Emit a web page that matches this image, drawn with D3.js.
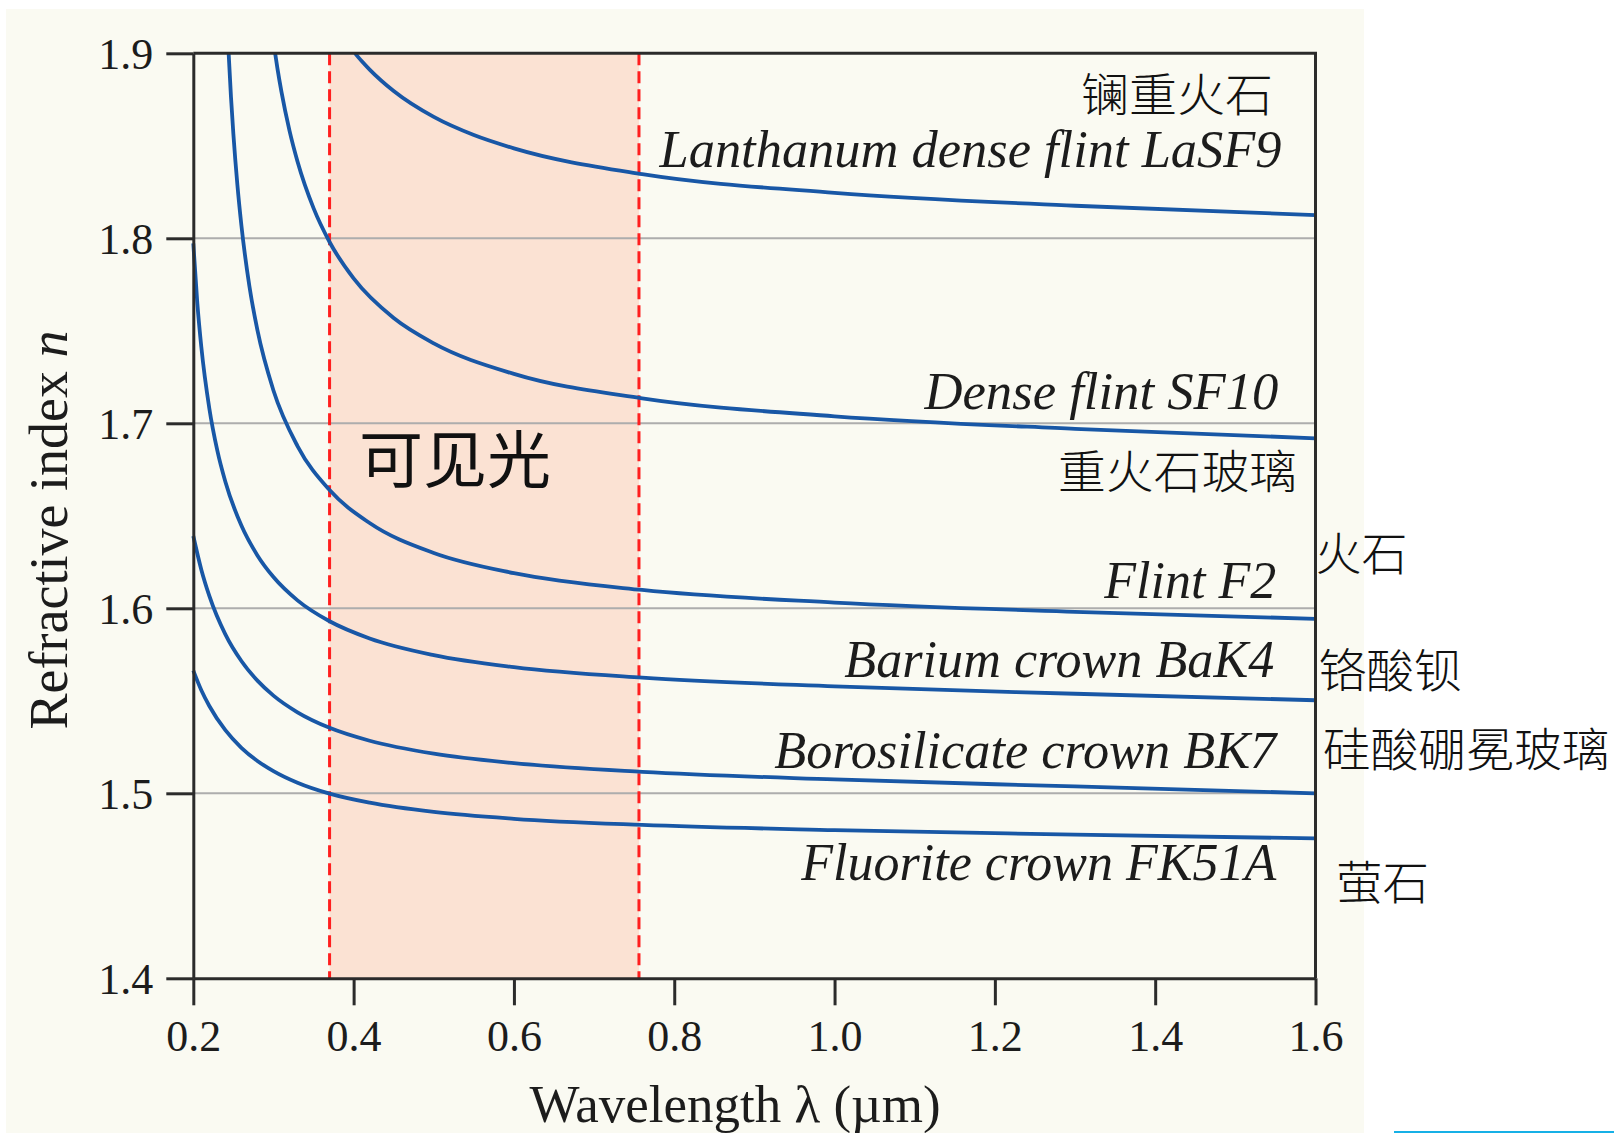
<!DOCTYPE html>
<html><head><meta charset="utf-8">
<script src="https://cdn.jsdelivr.net/npm/d3@7"></script>
<style>body{margin:0;background:#fff;} svg{display:block;}</style>
</head><body>
<svg id="chart" width="1614" height="1133"></svg>
<script>
// ---- data ----
const yTicks = [1.4, 1.5, 1.6, 1.7, 1.8, 1.9];
const xTicks = [0.2, 0.4, 0.6, 0.8, 1.0, 1.2, 1.4, 1.6];
const gridValues = [1.5, 1.6, 1.7, 1.8];
const visibleBand = [0.37, 0.756];

const wlLaSF9 = [0.4018, 0.41, 0.42, 0.45, 0.5, 0.55, 0.6, 0.76, 1.0, 1.3, 1.6];
const nLaSF9  = [1.9000, 1.8958, 1.8912, 1.8796, 1.8656, 1.8558, 1.8486, 1.8347, 1.8246, 1.8176, 1.8125];

const wlSF10 = [0.3021, 0.305, 0.31, 0.32, 0.33, 0.35, 0.37, 0.4, 0.45, 0.5, 0.6, 0.76, 1.0, 1.3, 1.6];
const nSF10  = [1.9000, 1.8917, 1.8791, 1.8582, 1.8415, 1.8163, 1.7980, 1.7783, 1.7569, 1.7432, 1.7267, 1.7135, 1.7038, 1.6970, 1.6919];

const wlF2 = [0.2441, 0.247, 0.25, 0.255, 0.26, 0.27, 0.28, 0.3, 0.33, 0.37, 0.42, 0.5, 0.6, 0.76, 1.0, 1.3, 1.6];
const nF2  = [1.9000, 1.8765, 1.8563, 1.8289, 1.8070, 1.7741, 1.7503, 1.7177, 1.6877, 1.6639, 1.6461, 1.6299, 1.6190, 1.6099, 1.6031, 1.5981, 1.5943];

const wlBaK4 = [0.2, 0.205, 0.21, 0.22, 0.23, 0.24, 0.26, 0.28, 0.3, 0.33, 0.37, 0.42, 0.5, 0.6, 0.76, 1.0, 1.3, 1.6];
const nBaK4  = [1.7972, 1.7650, 1.7413, 1.7080, 1.6852, 1.6684, 1.6447, 1.6286, 1.6169, 1.6043, 1.5930, 1.5837, 1.5747, 1.5682, 1.5625, 1.5578, 1.5538, 1.5503];

const wlBK7 = [0.2, 0.21, 0.22, 0.24, 0.26, 0.28, 0.3, 0.33, 0.37, 0.42, 0.5, 0.6, 0.76, 1.0, 1.3, 1.6];
const nBK7  = [1.6391, 1.6209, 1.6067, 1.5859, 1.5715, 1.5609, 1.5528, 1.5438, 1.5354, 1.5284, 1.5214, 1.5163, 1.5116, 1.5075, 1.5037, 1.5000];

const wlFK51A = [0.2, 0.21, 0.22, 0.24, 0.26, 0.28, 0.3, 0.33, 0.37, 0.42, 0.5, 0.6, 0.76, 1.0, 1.3, 1.6];
const nFK51A  = [1.5663, 1.5557, 1.5472, 1.5341, 1.5246, 1.5175, 1.5120, 1.5057, 1.4998, 1.4949, 1.4899, 1.4862, 1.4829, 1.4801, 1.4777, 1.4756];

const seriesNames = ["Lanthanum dense flint LaSF9", "Dense flint SF10", "Flint F2",
                     "Barium crown BaK4", "Borosilicate crown BK7", "Fluorite crown FK51A"];
const seriesNamesCN = ["镧重火石", "重火石玻璃", "火石", "铬酸钡", "硅酸硼冕玻璃", "萤石"];
const bandLabel = "可见光";
const xTitle = "Wavelength λ (µm)";
const yTitle = "Refractive index ";
const yTitleVar = "n";

// ---- drawing ----
const svg = d3.select("#chart");
const L = 193.3, R = 1315.5, T = 53.3, B = 978.3;
const x = d3.scaleLinear().domain([0.2, 1.6]).range([L, R]);
const y = d3.scaleLinear().domain([1.4, 1.9]).range([B, T]);

const ink = "#1c1c1c";
const serif = "'Liberation Serif','Times New Roman',serif";
const cjk = "'Noto Sans CJK SC','Noto Sans CJK JP',sans-serif";

// panel background
svg.append("rect").attr("x", 6).attr("y", 9).attr("width", 1358).attr("height", 1124).attr("fill", "#fafaf2");
svg.append("line").attr("x1", 1394).attr("x2", 1614).attr("y1", 1132).attr("y2", 1132)
  .attr("stroke", "#16b0e6").attr("stroke-width", 2);

// visible band
svg.append("rect")
  .attr("x", x(visibleBand[0])).attr("y", T)
  .attr("width", x(visibleBand[1]) - x(visibleBand[0])).attr("height", B - T)
  .attr("fill", "#fbe2d3");

// grid
svg.append("g").selectAll("line").data(gridValues).join("line")
  .attr("x1", L).attr("x2", R).attr("y1", d => y(d)).attr("y2", d => y(d))
  .attr("stroke", "#adadad").attr("stroke-width", 2);

// red dashed band edges
svg.append("g").selectAll("line").data(visibleBand).join("line")
  .attr("x1", d => x(d)).attr("x2", d => x(d)).attr("y1", T).attr("y2", B)
  .attr("stroke", "#ff1f1f").attr("stroke-width", 3).attr("stroke-dasharray", "12,6");

// curves
const series = [[wlLaSF9, nLaSF9], [wlSF10, nSF10], [wlF2, nF2], [wlBaK4, nBaK4], [wlBK7, nBK7], [wlFK51A, nFK51A]];
const line = d3.line().x(d => x(d[0])).y(d => y(d[1])).curve(d3.curveMonotoneX);
svg.append("g").selectAll("path").data(series).join("path")
  .attr("d", s => line(s[0].map((w, i) => [w, s[1][i]])))
  .attr("fill", "none").attr("stroke", "#1857a6").attr("stroke-width", 3.8);

// frame top / right
svg.append("line").attr("x1", L).attr("x2", R + 1.5).attr("y1", T).attr("y2", T).attr("stroke", "#2b2b2b").attr("stroke-width", 3);
svg.append("line").attr("x1", R).attr("x2", R).attr("y1", T).attr("y2", B).attr("stroke", "#2b2b2b").attr("stroke-width", 3);

// axes
const yAxis = svg.append("g").attr("transform", `translate(${L},0)`)
  .call(d3.axisLeft(y).tickValues(yTicks).tickSize(27).tickSizeOuter(0).tickPadding(13).tickFormat(d3.format(".1f")));
const xAxis = svg.append("g").attr("transform", `translate(0,${B})`)
  .call(d3.axisBottom(x).tickValues(xTicks).tickSize(27).tickSizeOuter(0).tickPadding(14).tickFormat(d3.format(".1f")));
[yAxis, xAxis].forEach(g => {
  g.select(".domain").attr("stroke", "#2b2b2b").attr("stroke-width", 3);
  g.selectAll(".tick line").attr("stroke", "#2b2b2b").attr("stroke-width", 3);
  g.selectAll(".tick text").attr("fill", ink).attr("font-family", serif).attr("font-size", 44);
});
yAxis.selectAll(".tick text").attr("dy", "0.34em");
xAxis.selectAll(".tick text").attr("dy", "0.71em");

// axis titles
svg.append("text").attr("x", 735).attr("y", 1122).attr("text-anchor", "middle")
  .attr("font-family", serif).attr("font-size", 53).attr("fill", ink).text(xTitle);
const yt = svg.append("text").attr("transform", "translate(67,530) rotate(-90)").attr("text-anchor", "middle")
  .attr("font-family", serif).attr("font-size", 54).attr("fill", ink);
yt.append("tspan").text(yTitle);
yt.append("tspan").attr("font-style", "italic").text(yTitleVar);

// series labels (italic, right aligned)
const enPos = [[1281.5, 166.7, 622], [1278.4, 408.6, 354], [1276.3, 598, 172],
               [1274.3, 677.3, 430], [1276.3, 767.9, 502], [1276.3, 880, 475]];
svg.append("g").selectAll("text").data(seriesNames).join("text")
  .attr("x", (d, i) => enPos[i][0]).attr("y", (d, i) => enPos[i][1])
  .attr("text-anchor", "end").attr("font-family", serif).attr("font-style", "italic")
  .attr("font-size", 53).attr("fill", ink)
  .attr("textLength", (d, i) => enPos[i][2]).attr("lengthAdjust", "spacingAndGlyphs")
  .text(d => d);

// chinese labels
const cnPos = [[1081, 90.5, 192], [1058, 468, 239], [1315.5, 550, 92],
               [1318.6, 667, 143], [1322.7, 746, 287], [1336, 879, 93]];
svg.append("g").selectAll("text").data(seriesNamesCN).join("text")
  .attr("x", (d, i) => cnPos[i][0]).attr("y", (d, i) => cnPos[i][1])
  .attr("dominant-baseline", "central").attr("font-family", cjk).attr("font-weight", 300)
  .attr("font-size", 46).attr("fill", "#111")
  .attr("textLength", (d, i) => cnPos[i][2]).attr("lengthAdjust", "spacingAndGlyphs")
  .text(d => d);

svg.append("text").attr("x", 359).attr("y", 456).attr("dominant-baseline", "central")
  .attr("font-family", cjk).attr("font-size", 62).attr("fill", "#111")
  .attr("textLength", 192).attr("lengthAdjust", "spacingAndGlyphs").text(bandLabel);
</script>
</body></html>
